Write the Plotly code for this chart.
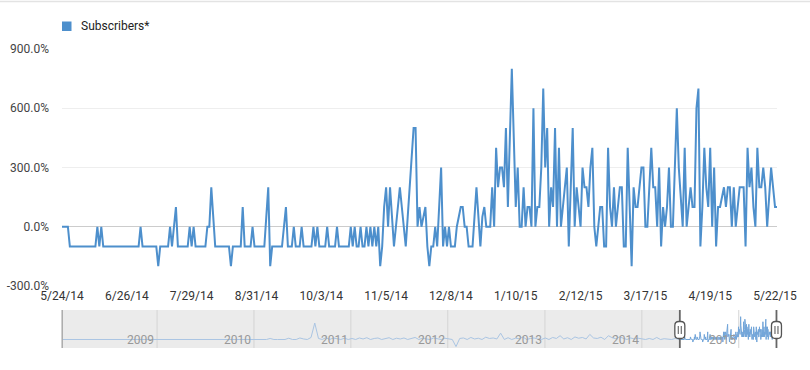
import pandas as pd
import plotly.graph_objects as go

# ---------------- data ----------------
start_date = "2014-05-24"
subscribers_pct = [
    0, 0, 0, 0, -100, -100, -100, -100, -100, -100,
    -100, -100, -100, -100, -100, -100, -100, -100, 0, -100,
    0, -100, -100, -100, -100, -100, -100, -100, -100, -100,
    -100, -100, -100, -100, -100, -100, -100, -100, -100, -100,
    0, -100, -100, -100, -100, -100, -100, -100, -100, -200,
    -100, -100, -100, -100, -100, 0, -100, 0, 100, -100,
    -100, -100, -100, -100, -100, 0, -100, 0, -100, -100,
    -100, -100, -100, -100, 0, 0, 200, 50, -100, -100,
    -100, -100, -100, -100, -100, -100, -200, -100, -100, -100,
    -100, -100, 100, -100, -100, -100, -100, 0, -100, -100,
    -100, -100, -100, -100, 50, 200, -200, -100, -100, -100,
    -100, -100, -100, 0, 100, -100, -100, -100, 0, -100,
    -100, -100, 0, -100, -100, -100, -100, -100, 0, -100,
    0, -100, -100, -100, -100, 0, -100, -100, -100, -100,
    0, -100, -100, -100, -100, -100, -100, 0, -100, 0,
    -100, -100, 0, -100, -100, 0, -100, 0, -100, 0,
    -100, 0, -200, -100, 100, 200, 0, 200, 50, -100,
    0, 100, 200, 100, 0, -100, 50, 200, 350, 500,
    500, 0, 100, 0, 50, 100, -100, -200, -100, -100,
    0, -100, 100, 300, -100, 0, -100, 0, -100, -100,
    -100, 0, 50, 100, 100, 0, 0, -100, -100, -100,
    50, 200, 50, -100, 50, 100, 0, 0, 0, 200,
    0, 400, 200, 300, 300, 200, 500, 100, 400, 800,
    450, 100, 300, 0, 0, 200, 0, 100, 100, 0,
    600, 0, 100, 100, 300, 700, 300, 500, 0, 200,
    100, 500, 0, 400, 0, 100, 200, 300, -100, 200,
    500, 0, 200, 100, 0, 300, 200, 200, 100, 300,
    400, 0, -100, 0, 100, 100, -100, -100, 400, 100,
    0, 200, 0, 100, 200, 200, -100, -100, 400, 100,
    -200, 200, 100, 100, 200, 300, 300, 0, 0, 200,
    400, 200, 200, 0, 300, -100, 100, 0, 100, 300,
    0, 0, 300, 600, 300, 150, 0, 400, 0, 100,
    200, 100, 100, 600, 700, -100, 100, 400, 200, 100,
    400, 0, 300, -100, 100, 100, 150, 200, 100, 200,
    200, 0, 200, 0, 100, 200, 200, 200, -100, 400,
    200, 300, 100, 0, 400, 200, 200, 300, 200, 0,
    150, 300, 200, 100, 100,
]

x_tick_dates = ["2014-05-24", "2014-06-26", "2014-07-29", "2014-08-31",
                "2014-10-03", "2014-11-05", "2014-12-08", "2015-01-10",
                "2015-02-12", "2015-03-17", "2015-04-19", "2015-05-22"]
x_tick_labels = ["5/24/14", "6/26/14", "7/29/14", "8/31/14", "10/3/14",
                 "11/5/14", "12/8/14", "1/10/15", "2/12/15", "3/17/15",
                 "4/19/15", "5/22/15"]
y_tick_vals = [-300, 0, 300, 600, 900]
y_tick_labels = ["-300.0%", "0.0%", "300.0%", "600.0%", "900.0%"]

series_name = "Subscribers*"

# overview (range selector) history, sampled every two weeks
history_start = "2008-01-09"
history_pct = (
    [-100] * 26 +                       # 2008
    [-100] * 26 +                       # 2009
    [-100, -100, -100, -100, -60, -100, -100, -100, -100, -50, -100, -100, -40,
     -80, -100, -20, 550, -60, -100, -30, -100, -40, -80, -100, -50, -100] +   # 2010
    [-60, -100, -40, -80, -30, -100, -60, -40, -100, -70, -30, -100, -50,
     -80, -40, -100, -60, -20, -100, -50, -80, -100, -40, -70, -100, -50] +    # 2011
    [-80, -100, -380, -60, -40, -100, -20, -80, -50, -100, -10, -60, -40,
     -80, 150, -100, -30, -100, -50, -70, 0, -100, -60, -40, -80, -100] +      # 2012
    [-40, -100, -20, -60, 50, -80, -30, -100, 0, -50, -20, -80, 100,
     -40, -60, -10, -100, 50, -30, -70, 0, -60, -100, -40, -80, -50] +         # 2013
    [-80, -100, -60, -100, -20, -100, -70, -100, -100, -60, -100]             # 2014
)
year_labels = ["2009", "2010", "2011", "2012", "2013", "2014", "2015"]

# ---------------- derived ----------------
dates = pd.date_range(start_date, periods=len(subscribers_pct), freq="D")
history_dates = pd.date_range(history_start, periods=len(history_pct), freq="14D")

main_range = [dates[0], dates[-1]]
ov_range = [pd.Timestamp(history_start), dates[-1] + pd.Timedelta(days=2)]

W, H = 810, 370
ML, MR, MT, MB = 62, 33, 49, 22
PW, PH = W - ML - MR, H - MT - MB

def py(ypx):  # pixel y -> paper y
    return (H - MB - ypx) / PH

def pxx(xpx):  # pixel x -> paper x
    return (xpx - ML) / PW

def date_paper(t):
    t = pd.Timestamp(t)
    return (t - ov_range[0]) / (ov_range[1] - ov_range[0])

main_dom = [py(286), 1.0]
ov_dom = [0.0, py(310)]

LINE = "#4d8fcc"

fig = go.Figure()
fig.add_trace(go.Scatter(x=dates, y=subscribers_pct, mode="lines", name=series_name,
                         line=dict(color=LINE, width=2), xaxis="x", yaxis="y",
                         hoverinfo="skip", showlegend=False))
fig.add_trace(go.Scatter(x=history_dates, y=history_pct, mode="lines",
                         line=dict(color="#aac5e3", width=1), xaxis="x2", yaxis="y2",
                         hoverinfo="skip", showlegend=False))
fig.add_trace(go.Scatter(x=dates, y=subscribers_pct, mode="lines",
                         line=dict(color="#72a5d9", width=1), xaxis="x2", yaxis="y2",
                         hoverinfo="skip", showlegend=False))

shapes = []
# top border
shapes.append(dict(type="line", xref="paper", yref="paper", x0=pxx(0), x1=pxx(W),
                   y0=py(1.5), y1=py(1.5), line=dict(color="#e3e3e3", width=1.5)))
# legend swatch
shapes.append(dict(type="rect", xref="paper", yref="paper", x0=pxx(62), x1=pxx(71.5),
                   y0=py(31), y1=py(21.5), fillcolor=LINE, line=dict(width=0)))
# range selector gray (unselected) area
shapes.append(dict(type="rect", xref="x2", yref="y2 domain", x0=ov_range[0], x1=dates[0],
                   y0=0, y1=1, fillcolor="#ebebeb", line=dict(width=0), layer="below"))
shapes.append(dict(type="rect", xref="x2", yref="y2 domain", x0=dates[-1], x1=ov_range[1],
                   y0=0, y1=1, fillcolor="#ebebeb", line=dict(width=0), layer="below"))
# year lines
for yl in year_labels:
    shapes.append(dict(type="line", xref="x2", yref="y2 domain", x0=f"{yl}-01-01",
                       x1=f"{yl}-01-01", y0=0, y1=1,
                       line=dict(color="#d4d4d4", width=1), layer="below"))
# left border of selector
shapes.append(dict(type="line", xref="paper", yref="paper", x0=pxx(62.2), x1=pxx(62.2),
                   y0=ov_dom[0], y1=ov_dom[1], line=dict(color="#aaaaaa", width=1.5)))

# handles
def handle(t):
    cx = date_paper(t)
    out = [dict(type="line", xref="paper", yref="paper", x0=cx, x1=cx,
                y0=ov_dom[0], y1=ov_dom[1], line=dict(color="#666666", width=1.8))]
    hw, r = 5.0, 4.0
    top, bot = 321.5, 338.5
    cpx = ML + cx * PW
    X = lambda v: pxx(v)
    Y = lambda v: py(v)
    path = (f"M {X(cpx - hw + r)} {Y(top)} L {X(cpx + hw - r)} {Y(top)} "
            f"Q {X(cpx + hw)} {Y(top)} {X(cpx + hw)} {Y(top + r)} "
            f"L {X(cpx + hw)} {Y(bot - r)} Q {X(cpx + hw)} {Y(bot)} {X(cpx + hw - r)} {Y(bot)} "
            f"L {X(cpx - hw + r)} {Y(bot)} Q {X(cpx - hw)} {Y(bot)} {X(cpx - hw)} {Y(bot - r)} "
            f"L {X(cpx - hw)} {Y(top + r)} Q {X(cpx - hw)} {Y(top)} {X(cpx - hw + r)} {Y(top)} Z")
    out.append(dict(type="path", xref="paper", yref="paper", path=path,
                    fillcolor="white", line=dict(color="#555555", width=1.3)))
    for dx in (-1.5, 1.5):
        out.append(dict(type="line", xref="paper", yref="paper", x0=X(cpx + dx), x1=X(cpx + dx),
                        y0=Y(326), y1=Y(334), line=dict(color="#777777", width=1.3)))
    return out

shapes += handle(dates[0])
shapes += handle(dates[-1])

annotations = [dict(text=series_name, xref="paper", yref="paper", x=pxx(79), y=py(26.5),
                    xanchor="left", yanchor="middle", showarrow=False,
                    font=dict(family="Roboto", size=12, color="#222222"))]
for yl in year_labels:
    annotations.append(dict(text=yl, xref="x2", yref="y2 domain", x=f"{yl}-01-01", y=0.22,
                            xanchor="right", yanchor="middle", showarrow=False, xshift=-1,
                            font=dict(family="Roboto", size=12, color="#999999")))

fig.update_layout(
    width=W, height=H, margin=dict(l=ML, r=MR, t=MT, b=MB, autoexpand=False),
    paper_bgcolor="white", plot_bgcolor="white",
    font=dict(family="Roboto", size=12, color="#333333"),
    showlegend=False, hovermode=False,
    xaxis=dict(type="date", domain=[0, 1], anchor="y", range=main_range,
               tickvals=x_tick_dates, ticktext=x_tick_labels, showgrid=False,
               zeroline=False, showline=False, ticks="", ticklabelstandoff=1,
               automargin=False, tickfont=dict(size=12, color="#333333")),
    yaxis=dict(domain=main_dom, anchor="x", range=[-300, 900], tickvals=y_tick_vals,
               ticktext=y_tick_labels, showgrid=True, gridcolor="#eeeeee", gridwidth=1,
               zeroline=True, zerolinecolor="#cccccc", zerolinewidth=1,
               showline=False, ticks="", ticklabelstandoff=12, automargin=False,
               tickfont=dict(size=12, color="#444444")),
    xaxis2=dict(type="date", domain=[0, 1], anchor="y2", range=ov_range,
                showticklabels=False, showgrid=False, zeroline=False, showline=False,
                automargin=False),
    yaxis2=dict(domain=ov_dom, anchor="x2", range=[-436, 1064], showticklabels=False,
                showgrid=False, zeroline=False, showline=False, automargin=False),
    shapes=shapes, annotations=annotations,
)

fig.write_html("out.html", config={"displayModeBar": False},
               post_script="document.body.style.margin='0';")
